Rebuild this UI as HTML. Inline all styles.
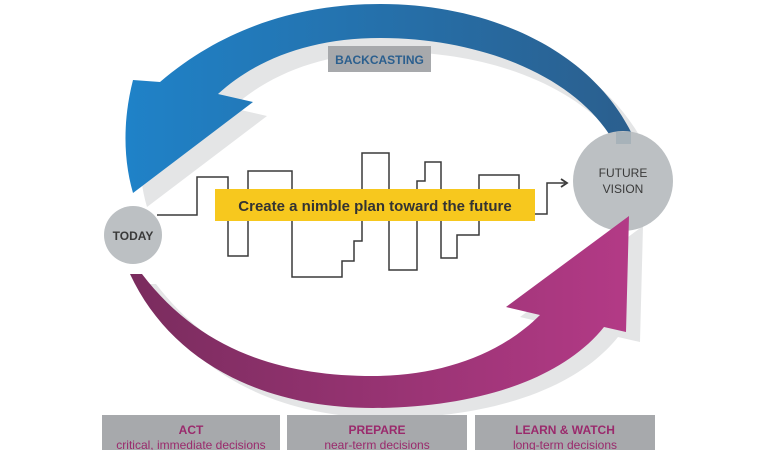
<!DOCTYPE html>
<html><head><meta charset="utf-8"><style>
html,body{margin:0;padding:0;background:#fff;}
svg{display:block;}
</style></head><body>
<svg width="770" height="450" viewBox="0 0 770 450" xmlns="http://www.w3.org/2000/svg">
<defs>
<linearGradient id="bl" x1="0" x2="1" y1="0" y2="0">
<stop offset="0" stop-color="#1f82c8"/><stop offset="1" stop-color="#2b5f8e"/>
</linearGradient>
<linearGradient id="mg" x1="0" x2="1" y1="0" y2="0">
<stop offset="0" stop-color="#7a2c5e"/><stop offset="1" stop-color="#b33a86"/>
</linearGradient>
</defs>
<!-- shadows -->
<path d="M133,80 L160,82 C230,22 310,4 380,4 C490,4 590,50 631,132 L609,134 C570,75 480,38 380,38 C310,38 255,60 218,94 L253,102 L133,193 C122,155 124,115 133,80 Z" fill="#e4e5e6" transform="translate(14,14)"/>
<path d="M130,274 L142,274 C200,350 280,376 373,376 C440,376 500,355 540,315 L506,307 L629,216 L626,332 L604,327 C560,382 470,408 373,408 C260,408 170,360 130,274 Z" fill="#e4e5e6" transform="translate(14,10)"/>
<!-- blue arrow -->
<path d="M133,80 L160,82 C230,22 310,4 380,4 C490,4 590,50 631,132 L609,134 C570,75 480,38 380,38 C310,38 255,60 218,94 L253,102 L133,193 C122,155 124,115 133,80 Z" fill="url(#bl)"/>
<!-- label -->
<rect x="328" y="46" width="103" height="26" fill="#a7a9ac"/>
<text x="379.5" y="64" text-anchor="middle" font-family="Liberation Sans, sans-serif" font-weight="bold" font-size="12" fill="#2b5f8e">BACKCASTING</text>
<!-- circles -->
<circle cx="623" cy="181" r="50" fill="#bcc0c3"/>
<rect x="616" y="132" width="15" height="12" fill="#9aa9b3" opacity="0.6"/>
<text x="623" y="177" text-anchor="middle" font-family="Liberation Sans, sans-serif" font-size="12" fill="#3a3a3a">FUTURE</text>
<text x="623" y="193" text-anchor="middle" font-family="Liberation Sans, sans-serif" font-size="12" fill="#3a3a3a">VISION</text>
<circle cx="133" cy="235" r="29" fill="#bcc0c3"/>
<text x="133" y="240" text-anchor="middle" font-family="Liberation Sans, sans-serif" font-weight="bold" font-size="12" fill="#3a3a3a">TODAY</text>
<!-- magenta arrow -->
<path d="M130,274 L142,274 C200,350 280,376 373,376 C440,376 500,355 540,315 L506,307 L629,216 L626,332 L604,327 C560,382 470,408 373,408 C260,408 170,360 130,274 Z" fill="url(#mg)"/>
<!-- stepped line -->
<polyline fill="none" stroke="#3a3a3a" stroke-width="1.5" points="157,215 197,215 197,177 228,177 228,256 248,256 248,171 292,171 292,277 342,277 342,261 354,261 354,241 362,241 362,153 389,153 389,270 417,270 417,181 425,181 425,162 441,162 441,258 457,258 457,235 479,235 479,175 519,175 519,214 547,214 547,183 565,183"/>
<path d="M561,179 L567,183 L561,187" fill="none" stroke="#3a3a3a" stroke-width="1.8"/>
<!-- yellow box -->
<rect x="215" y="189" width="320" height="32" fill="#f7c81e"/>
<text x="375" y="211" text-anchor="middle" font-family="Liberation Sans, sans-serif" font-weight="bold" font-size="15" fill="#333">Create a nimble plan toward the future</text>
<!-- bottom boxes -->
<rect x="102" y="415" width="178" height="40" fill="#a7a9ac"/>
<rect x="287" y="415" width="180" height="40" fill="#a7a9ac"/>
<rect x="475" y="415" width="180" height="40" fill="#a7a9ac"/>
<g font-family="Liberation Sans, sans-serif" fill="#9a2a6c" text-anchor="middle">
<text x="191" y="434" font-weight="bold" font-size="12">ACT</text>
<text x="191" y="449" font-size="12">critical, immediate decisions</text>
<text x="377" y="434" font-weight="bold" font-size="12">PREPARE</text>
<text x="377" y="449" font-size="12">near-term decisions</text>
<text x="565" y="434" font-weight="bold" font-size="12">LEARN &amp; WATCH</text>
<text x="565" y="449" font-size="12">long-term decisions</text>
</g>
</svg>
</body></html>
